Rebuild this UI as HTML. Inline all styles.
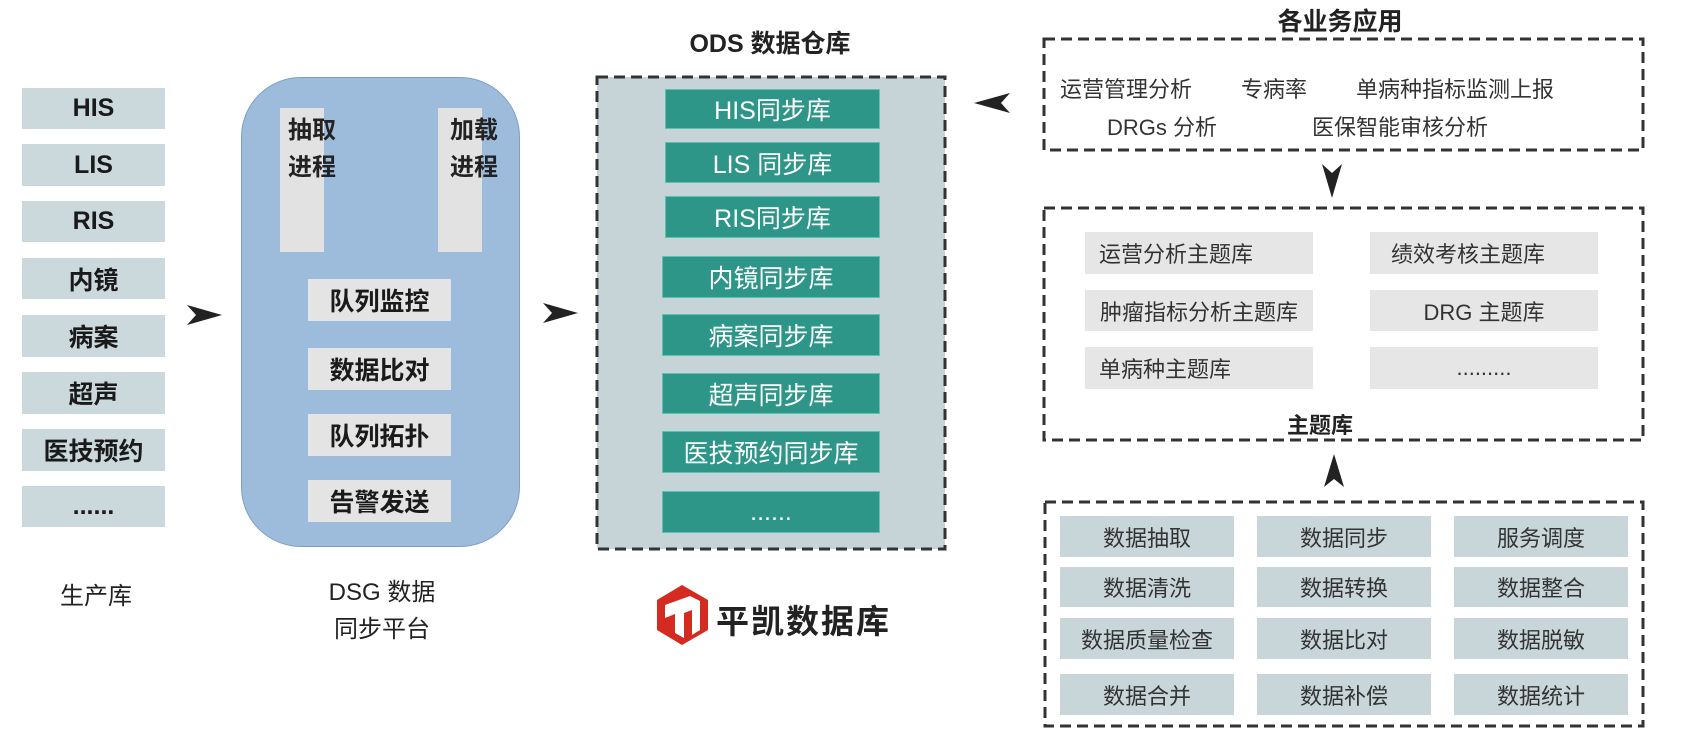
<!DOCTYPE html>
<html><head><meta charset="utf-8"><style>
body{margin:0;width:1704px;height:732px;background:#fff;position:relative;overflow:hidden;font-family:"Liberation Sans","Noto Sans CJK SC",sans-serif;color:#222}
.a{position:absolute;box-sizing:border-box}
.g{background:#ccd9dc;font-size:25px;font-weight:bold;display:flex;align-items:center;justify-content:center;color:#1a1a1a}
.t{background:#2e9688;color:#fff;font-size:25px;display:flex;align-items:center;justify-content:center;border:1px solid #5fc1b2}
.w{background:#e4e4e4;font-size:25px;font-weight:bold;display:flex;align-items:center;justify-content:center;color:#1a1a1a}
.th{background:#e6e6e6;font-size:22px;display:flex;align-items:center;color:#333}
.gr{background:#c9d6d9;font-size:22px;display:flex;align-items:center;justify-content:center;color:#333}
.lbl{font-size:24px;color:#222;text-align:center}
.b{font-weight:bold}
.s{font-size:22px;color:#333;position:absolute;white-space:nowrap}
</style></head><body>
<svg class="a" style="left:0;top:0" width="1704" height="732">
<rect x="597" y="77" width="348" height="472" fill="#c6d4d7" stroke="#333" stroke-width="3" stroke-dasharray="11,6"/>
<rect x="1044" y="39" width="599" height="111" fill="none" stroke="#333" stroke-width="3" stroke-dasharray="11,6"/>
<rect x="1044" y="208" width="599" height="232" fill="none" stroke="#333" stroke-width="3" stroke-dasharray="11,6"/>
<rect x="1045" y="502" width="598" height="224" fill="none" stroke="#333" stroke-width="3" stroke-dasharray="11,6"/>
<path d="M187 305 L222 315 L187 325 L196 315Z" fill="#222"/>
<path d="M543 303 L578 313 L543 323 L552 313Z" fill="#222"/>
<path d="M1010 93 L974 103 L1010 113 L1001 103Z" fill="#222"/>
<path d="M1322 164 L1332 198 L1342 164 L1332 173Z" fill="#222"/>
<path d="M1324 487 L1334 454 L1344 487 L1334 479Z" fill="#222"/>
<polygon points="682,585 708,600 708,630 682,645 657,630 657,600" fill="#d42a20"/>
<path d="M665 605 L690 596 L700 601 L700 630 L692 635 L692 610 L684 613 L684 638 L675 633 L675 614 L665 618Z" fill="#fff"/>
</svg>
<div class="a g" style="left:22px;top:88px;width:143px;height:41px">HIS</div>
<div class="a g" style="left:22px;top:144px;width:143px;height:42px">LIS</div>
<div class="a g" style="left:22px;top:201px;width:143px;height:41px">RIS</div>
<div class="a g" style="left:22px;top:258px;width:143px;height:41px">内镜</div>
<div class="a g" style="left:22px;top:315px;width:143px;height:42px">病案</div>
<div class="a g" style="left:22px;top:372px;width:143px;height:42px">超声</div>
<div class="a g" style="left:22px;top:429px;width:143px;height:42px">医技预约</div>
<div class="a g" style="left:22px;top:486px;width:143px;height:41px">......</div>
<div class="a lbl" style="left:40px;top:576px;width:112px">生产库</div>
<div class="a" style="left:241px;top:77px;width:279px;height:470px;background:#9dbcdc;border:1px solid #7f9fc0;border-radius:60px"></div>
<div class="a" style="left:280px;top:108px;width:44px;height:144px;background:#e2e2e2"></div>
<div class="a" style="left:438px;top:108px;width:44px;height:144px;background:#e2e2e2"></div>
<div class="a b" style="left:288px;top:112px;font-size:24px;line-height:37px">抽取<br>进程</div>
<div class="a b" style="left:450px;top:112px;font-size:24px;line-height:37px">加载<br>进程</div>
<div class="a w" style="left:308px;top:279px;width:143px;height:42px">队列监控</div>
<div class="a w" style="left:308px;top:348px;width:143px;height:42px">数据比对</div>
<div class="a w" style="left:308px;top:414px;width:143px;height:42px">队列拓扑</div>
<div class="a w" style="left:308px;top:480px;width:143px;height:42px">告警发送</div>
<div class="a lbl" style="left:302px;top:574px;width:160px;line-height:37px">DSG 数据<br>同步平台</div>
<div class="a b" style="left:660px;top:24px;width:220px;text-align:center;font-size:25px">ODS 数据仓库</div>
<div class="a t" style="left:665px;top:89px;width:215px;height:40px">HIS同步库</div>
<div class="a t" style="left:665px;top:142px;width:215px;height:41px">LIS 同步库</div>
<div class="a t" style="left:665px;top:196px;width:215px;height:42px">RIS同步库</div>
<div class="a t" style="left:662px;top:256px;width:218px;height:42px">内镜同步库</div>
<div class="a t" style="left:662px;top:314px;width:218px;height:42px">病案同步库</div>
<div class="a t" style="left:662px;top:373px;width:218px;height:41px">超声同步库</div>
<div class="a t" style="left:662px;top:431px;width:218px;height:42px">医技预约同步库</div>
<div class="a t" style="left:662px;top:491px;width:218px;height:42px">......</div>
<div class="a b" style="left:716px;top:595px;font-size:33px;letter-spacing:2px">平凯数据库</div>
<div class="a b" style="left:1240px;top:2px;width:200px;text-align:center;font-size:25px">各业务应用</div>
<div class="s" style="left:1060px;top:72px">运营管理分析</div>
<div class="s" style="left:1241px;top:72px">专病率</div>
<div class="s" style="left:1356px;top:72px">单病种指标监测上报</div>
<div class="s" style="left:1107px;top:110px">DRGs 分析</div>
<div class="s" style="left:1312px;top:110px">医保智能审核分析</div>
<div class="a th" style="left:1085px;top:232px;width:228px;height:42px;padding-left:14px">运营分析主题库</div>
<div class="a th" style="left:1370px;top:232px;width:228px;height:42px;padding-left:21px">绩效考核主题库</div>
<div class="a th" style="left:1085px;top:290px;width:228px;height:41px;justify-content:center">肿瘤指标分析主题库</div>
<div class="a th" style="left:1370px;top:290px;width:228px;height:41px;justify-content:center">DRG 主题库</div>
<div class="a th" style="left:1085px;top:347px;width:228px;height:42px;padding-left:14px">单病种主题库</div>
<div class="a th" style="left:1370px;top:347px;width:228px;height:42px;justify-content:center">.........</div>
<div class="a b" style="left:1270px;top:408px;width:100px;text-align:center;font-size:22px">主题库</div>
<div class="a gr" style="left:1060px;top:516px;width:174px;height:41px">数据抽取</div>
<div class="a gr" style="left:1257px;top:516px;width:174px;height:41px">数据同步</div>
<div class="a gr" style="left:1454px;top:516px;width:174px;height:41px">服务调度</div>
<div class="a gr" style="left:1060px;top:567px;width:174px;height:40px">数据清洗</div>
<div class="a gr" style="left:1257px;top:567px;width:174px;height:40px">数据转换</div>
<div class="a gr" style="left:1454px;top:567px;width:174px;height:40px">数据整合</div>
<div class="a gr" style="left:1060px;top:618px;width:174px;height:41px">数据质量检查</div>
<div class="a gr" style="left:1257px;top:618px;width:174px;height:41px">数据比对</div>
<div class="a gr" style="left:1454px;top:618px;width:174px;height:41px">数据脱敏</div>
<div class="a gr" style="left:1060px;top:674px;width:174px;height:41px">数据合并</div>
<div class="a gr" style="left:1257px;top:674px;width:174px;height:41px">数据补偿</div>
<div class="a gr" style="left:1454px;top:674px;width:174px;height:41px">数据统计</div>
</body></html>
